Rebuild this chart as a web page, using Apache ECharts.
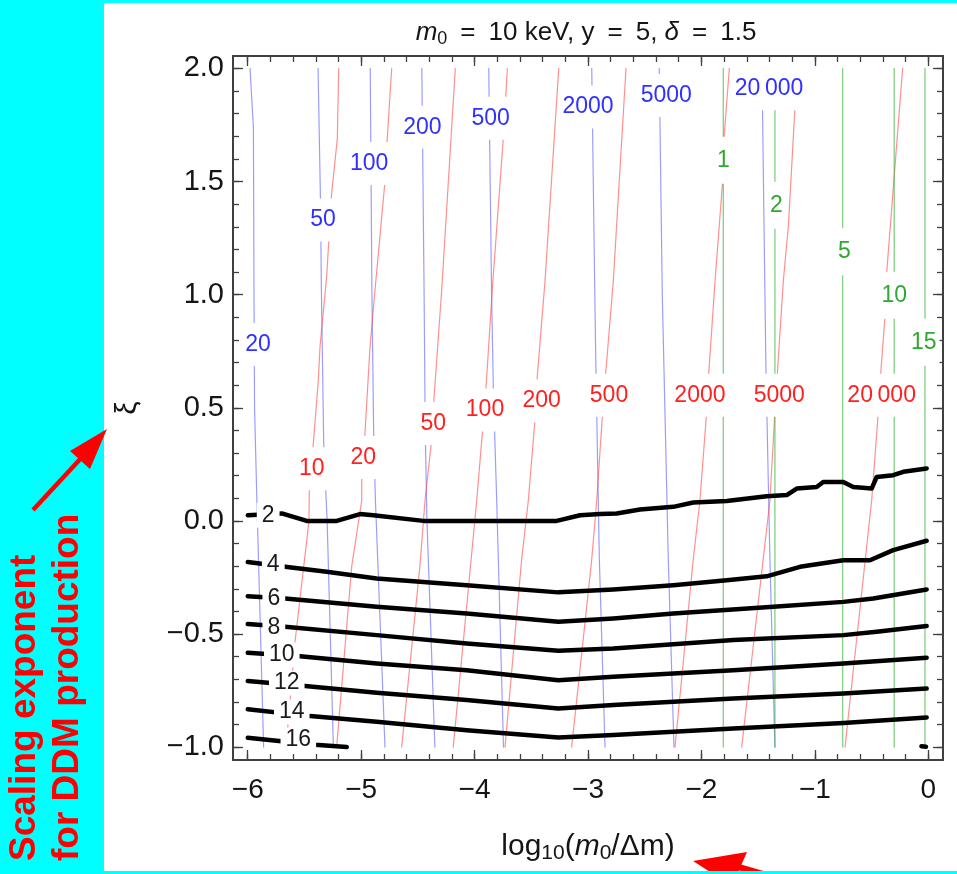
<!DOCTYPE html>
<html>
<head>
<meta charset="utf-8">
<script src="https://cdn.jsdelivr.net/npm/echarts@6/dist/echarts.min.js"></script>
<style>
html, body { margin: 0; padding: 0; background: #00ffff; }
#paper { position: absolute; left: 104px; top: 3px; width: 853px; height: 868px; background: #ffffff; }
#main { position: absolute; left: 0; top: 0; width: 957px; height: 874px; }
</style>
</head>
<body>
<div id="paper"></div>
<div id="main"></div>
<script>
// ---- values ----
var xTicks = [-6, -5, -4, -3, -2, -1, 0];
var xMinor = [-6, -5.8, -5.6, -5.4, -5.2, -5, -4.8, -4.6, -4.4, -4.2, -4, -3.8, -3.6, -3.4, -3.2, -3,
  -2.8, -2.6, -2.4, -2.2, -2, -1.8, -1.6, -1.4, -1.2, -1, -0.8, -0.6, -0.4, -0.2, 0];
var yTicks = [-1, -0.5, 0, 0.5, 1, 1.5, 2];
var yMinor = [-1, -0.9, -0.8, -0.7, -0.6, -0.5, -0.4, -0.3, -0.2, -0.1, 0, 0.1, 0.2, 0.3, 0.4, 0.5,
  0.6, 0.7, 0.8, 0.9, 1, 1.1, 1.2, 1.3, 1.4, 1.5, 1.6, 1.7, 1.8, 1.9, 2];

// blue contours
var blueLevels = ['20', '50', '100', '200', '500', '2000', '5000', '20\u2009000'];
var blueLines = [
  [[-5.98, 2.0], [-5.95, 1.74], [-5.945, 1.0], [-5.94, 0.5], [-5.92, 0.1], [-5.86, -1.0]],
  [[-5.38, 2.0], [-5.36, 1.45], [-5.35, 1.0], [-5.33, 0.34], [-5.30, 0.0], [-5.245, -1.0]],
  [[-4.92, 2.0], [-4.905, 1.0], [-4.89, 0.4], [-4.875, 0.1], [-4.79, -1.0]],
  [[-4.465, 2.0], [-4.445, 1.0], [-4.435, 0.4], [-4.42, 0.0], [-4.35, -1.0]],
  [[-3.875, 2.0], [-3.85, 1.0], [-3.835, 0.59], [-3.805, 0.09], [-3.745, -1.0]],
  [[-2.967, 2.0], [-2.94, 1.0], [-2.93, 0.67], [-2.90, -0.17], [-2.85, -1.0]],
  [[-2.372, 2.0], [-2.345, 1.0], [-2.292, -0.17], [-2.242, -1.0]],
  [[-1.466, 2.0], [-1.44, 1.0], [-1.431, 0.67], [-1.396, -0.17], [-1.352, -1.0]]
];
var blueLabelPos = [[-5.91, 0.78], [-5.337, 1.33], [-4.93, 1.58], [-4.46, 1.74], [-3.858, 1.78],
  [-3.0, 1.83], [-2.31, 1.88], [-1.404, 1.91]];

// red contours
var redLevels = ['10', '20', '50', '100', '200', '500', '2000', '5000', '20\u2009000'];
var redLines = [
  [[-5.198, 2.0], [-5.21, 1.69], [-5.26, 1.45], [-5.304, 1.08], [-5.363, 0.77], [-5.378, 0.62],
    [-5.422, 0.34], [-5.457, 0.15], [-5.46, 0.0], [-5.582, -0.53], [-5.662, -1.0]],
  [[-4.731, 2.0], [-4.77, 1.69], [-4.79, 1.5], [-4.878, 1.02], [-4.922, 0.77], [-4.966, 0.39],
    [-4.995, 0.21], [-4.995, 0.09], [-5.083, -0.2], [-5.216, -1.0]],
  [[-4.17, 2.0], [-4.29, 1.02], [-4.358, 0.54], [-4.378, 0.36], [-4.437, 0.09], [-4.482, -0.2], [-4.643, -1.0]],
  [[-3.711, 2.0], [-3.747, 1.69], [-3.843, 1.03], [-3.899, 0.59], [-3.928, 0.41], [-3.981, 0.09], [-4.188, -1.0]],
  [[-3.258, 2.0], [-3.379, 1.06], [-3.447, 0.64], [-3.467, 0.45], [-3.526, 0.09], [-3.585, -0.17], [-3.732, -1.0]],
  [[-2.665, 2.0], [-2.777, 1.06], [-2.841, 0.67], [-2.871, 0.48], [-2.923, 0.09], [-2.967, -0.17], [-3.144, -1.0]],
  [[-1.754, 2.0], [-1.801, 1.69], [-1.813, 1.5], [-1.88, 1.06], [-1.933, 0.67], [-1.954, 0.48],
    [-2.013, 0.09], [-2.072, -0.17], [-2.233, -1.0]],
  [[-1.158, 2.0], [-1.175, 1.83], [-1.219, 1.43], [-1.234, 1.3], [-1.278, 1.06], [-1.328, 0.67],
    [-1.352, 0.48], [-1.396, 0.09], [-1.645, -1.0]],
  [[-0.226, 2.0], [-0.367, 1.094], [-0.382, 0.9], [-0.417, 0.666], [-0.441, 0.476], [-0.499, 0.09], [-0.734, -1.0]]
];
var redLabelPos = [[-5.436, 0.23], [-4.981, 0.28], [-4.364, 0.43], [-3.908, 0.49], [-3.408, 0.53],
  [-2.815, 0.555], [-2.013, 0.555], [-1.314, 0.555], [-0.411, 0.555]];

// green contours
var greenLevels = ['1', '2', '5', '10', '15'];
var greenLines = [
  [[-1.807, 2.0], [-1.807, -1.0]],
  [[-1.352, 2.0], [-1.352, -1.0]],
  [[-0.755, 2.0], [-0.755, -1.0]],
  [[-0.30, 2.0], [-0.30, -1.0]],
  [[-0.029, 2.0], [-0.029, -1.0]]
];
var greenLabelPos = [[-1.807, 1.594], [-1.34, 1.395], [-0.74, 1.19], [-0.30, 0.997], [-0.04, 0.79]];

// black contours
var blackLevels = ['2', '4', '6', '8', '10', '12', '14', '16'];
var blackLines = [
  [[-6.0, 0.025], [-5.70, 0.033], [-5.48, 0.0], [-5.215, 0.0], [-5.01, 0.03], [-4.893, 0.025], [-4.452, 0.0],
    [-3.276, 0.0], [-3.07, 0.025], [-2.894, 0.03], [-2.747, 0.033], [-2.542, 0.05], [-2.248, 0.062],
    [-2.072, 0.081], [-1.777, 0.088], [-1.425, 0.109], [-1.248, 0.114], [-1.16, 0.143], [-0.984, 0.15],
    [-0.926, 0.172], [-0.749, 0.172], [-0.661, 0.15], [-0.499, 0.143], [-0.455, 0.194], [-0.309, 0.202],
    [-0.22, 0.217], [-0.014, 0.232]],
  [[-6.0, -0.182], [-5.671, -0.203], [-5.304, -0.225], [-4.863, -0.255], [-4.07, -0.284], [-3.262, -0.316],
    [-2.777, -0.303], [-2.248, -0.284], [-1.777, -0.262], [-1.425, -0.245], [-1.131, -0.203],
    [-0.749, -0.174], [-0.514, -0.174], [-0.309, -0.129], [-0.014, -0.088]],
  [[-6.0, -0.333], [-5.671, -0.343], [-4.863, -0.38], [-4.07, -0.409], [-3.262, -0.446], [-2.777, -0.431],
    [-2.248, -0.409], [-1.366, -0.38], [-0.749, -0.358], [-0.485, -0.343], [-0.014, -0.303]],
  [[-6.0, -0.456], [-5.671, -0.468], [-4.863, -0.505], [-4.07, -0.542], [-3.262, -0.574], [-2.777, -0.564],
    [-1.719, -0.527], [-0.749, -0.505], [-0.455, -0.49], [-0.014, -0.465]],
  [[-6.0, -0.583], [-5.539, -0.598], [-4.863, -0.63], [-4.07, -0.66], [-3.262, -0.704], [-2.777, -0.689],
    [-1.719, -0.66], [-0.749, -0.63], [-0.014, -0.605]],
  [[-6.0, -0.708], [-5.495, -0.73], [-4.863, -0.76], [-4.07, -0.792], [-3.262, -0.829], [-2.777, -0.814],
    [-1.719, -0.785], [-0.749, -0.763], [-0.014, -0.741]],
  [[-6.0, -0.833], [-5.451, -0.863], [-4.863, -0.888], [-4.07, -0.925], [-3.262, -0.958], [-2.777, -0.947],
    [-1.719, -0.918], [-0.749, -0.893], [-0.014, -0.869]],
  [[-6.0, -0.959], [-5.407, -0.99], [-5.127, -1.0]]
];
var black16Tail = [[-0.06, -0.996], [-0.02, -0.998]];
var blackLabelPos = [[-5.82, 0.025], [-5.775, -0.195], [-5.77, -0.342], [-5.77, -0.47], [-5.70, -0.593],
  [-5.656, -0.717], [-5.612, -0.845], [-5.554, -0.969]];

// ---- chart ----
var FONT = '"Liberation Sans", Arial, sans-serif';
var FRAME = '#404040';
var TXT = '#151515';
var X_MIN = -6.13, X_MAX = 0.13, Y_MIN = -1.057, Y_MAX = 2.055;

function minus(s) { return s.replace('-', '\u2212'); }

function frameAxis(pos, isX, major) {
  return {
    type: 'value',
    position: pos,
    min: isX ? X_MIN : Y_MIN,
    max: isX ? X_MAX : Y_MAX,
    splitLine: { show: false },
    axisLine: { show: major, onZero: false, lineStyle: { color: FRAME, width: 2 } },
    axisTick: {
      show: true, inside: true, length: major ? 10 : 6,
      customValues: major ? (isX ? xTicks : yTicks) : (isX ? xMinor : yMinor),
      lineStyle: { color: FRAME, width: 1.3 }
    },
    axisLabel: { show: false },
    axisPointer: { show: false }
  };
}

var xBottom = frameAxis('bottom', true, true);
xBottom.axisLabel = {
  show: true, customValues: xTicks, margin: 16,
  fontSize: 28, fontFamily: FONT, color: TXT,
  formatter: function (v) { return minus(String(v)); }
};
xBottom.name = 'log{s|10}({i|m}{s|0}/\u0394m)';
xBottom.nameLocation = 'middle';
xBottom.nameGap = 69;
xBottom.nameTextStyle = {
  fontSize: 30, fontFamily: FONT, color: TXT,
  rich: {
    s: { fontSize: 21, fontFamily: FONT, color: TXT, padding: [14, 0, 0, 0] },
    i: { fontSize: 30, fontFamily: FONT, color: TXT, fontStyle: 'italic' }
  }
};

var yLeft = frameAxis('left', false, true);
yLeft.axisLabel = {
  show: true, customValues: yTicks, margin: 9,
  fontSize: 29, fontFamily: FONT, color: TXT,
  formatter: function (v) { return minus(v.toFixed(1)); }
};
yLeft.name = '\u03be';
yLeft.nameLocation = 'middle';
yLeft.nameRotate = 90;
yLeft.nameGap = 90;
yLeft.nameTextStyle = { fontSize: 30, fontFamily: FONT, color: TXT };

var series = [];
function addLines(lines, color, width, z) {
  lines.forEach(function (pts) {
    series.push({
      type: 'line', data: pts, symbol: 'none', showSymbol: false, silent: true,
      lineStyle: { color: color, width: width, cap: 'round', join: 'round' }, z: z, animation: false
    });
  });
}
function addLabels(pos, levels, color, padding) {
  series.push({
    type: 'scatter', silent: true, animation: false, z: 6,
    data: pos.map(function (p, i) { return [p[0], p[1], levels[i]]; }),
    symbolSize: 1, itemStyle: { color: 'rgba(0,0,0,0)', opacity: 1 },
    label: {
      show: true, position: 'inside', formatter: function (p) { return p.value[2]; },
      color: color, opacity: 1, fontSize: 23, fontFamily: FONT, backgroundColor: '#ffffff', padding: padding
    }
  });
}

addLines(blueLines, 'rgba(90,90,255,0.6)', 1.2, 2);
addLines(redLines, 'rgba(255,70,70,0.6)', 1.2, 2);
addLines(greenLines, 'rgba(60,180,60,0.6)', 1.4, 2);
addLines(blackLines, '#000000', 4.5, 3);
addLines([black16Tail], '#000000', 4.5, 3);
addLabels(blueLabelPos, blueLevels, '#3030ff', [10, 3]);
addLabels(redLabelPos, redLevels, '#ff2020', [10, 3]);
addLabels(greenLabelPos, greenLevels, '#2fa82f', [12, 3]);
addLabels(blackLabelPos, blackLevels, '#1a1a1a', [1, 5]);

var RED = '#ff0000';
var chart = echarts.init(document.getElementById('main'));
chart.setOption({
  backgroundColor: 'transparent',
  animation: false,
  grid: { left: 233, right: 14, top: 56, bottom: 114, containLabel: false, outerBoundsMode: 'none' },
  xAxis: [xBottom, frameAxis('bottom', true, false), frameAxis('top', true, true), frameAxis('top', true, false)],
  yAxis: [yLeft, frameAxis('left', false, false), frameAxis('right', false, true), frameAxis('right', false, false)],
  series: series,
  graphic: [
    {
      type: 'text', x: 586, y: 33, silent: true,
      style: {
        text: '{i|m}{s|0}\u2002=\u200210 keV, y\u2002=\u20025, {i|\u03b4}\u2002=\u20021.5',
        fontSize: 26, fontFamily: FONT, fill: TXT, align: 'center', verticalAlign: 'middle',
        rich: {
          i: { fontSize: 26, fontFamily: FONT, fontStyle: 'italic', fill: TXT },
          s: { fontSize: 18, fontFamily: FONT, fill: TXT, padding: [12, 0, 0, 0] }
        }
      }
    },
    {
      type: 'text', x: 25, y: 861, rotation: Math.PI / 2, silent: true,
      style: { text: 'Scaling exponent', fontSize: 37, fontWeight: 'bold', fontFamily: FONT, fill: RED,
        align: 'left', verticalAlign: 'middle' }
    },
    {
      type: 'text', x: 68, y: 861, rotation: Math.PI / 2, silent: true,
      style: { text: 'for DDM production', fontSize: 37, fontWeight: 'bold', fontFamily: FONT, fill: RED,
        align: 'left', verticalAlign: 'middle' }
    },
    {
      type: 'line', silent: true,
      shape: { x1: 33, y1: 510, x2: 84, y2: 455 },
      style: { stroke: RED, lineWidth: 4.5 }
    },
    {
      type: 'polygon', silent: true,
      shape: { points: [[107, 429], [70, 451], [90, 469]] },
      style: { fill: RED }
    },
    {
      type: 'polygon', silent: true,
      shape: { points: [[693, 861], [747, 852], [732, 886]] },
      style: { fill: RED }
    },
    {
      type: 'line', silent: true,
      shape: { x1: 735, y1: 866, x2: 805, y2: 886 },
      style: { stroke: RED, lineWidth: 6 }
    },
    {
      type: 'rect', silent: true,
      shape: { x: 0, y: 871, width: 957, height: 3 },
      style: { fill: '#00ffff' }
    }
  ]
});
</script>
</body>
</html>
